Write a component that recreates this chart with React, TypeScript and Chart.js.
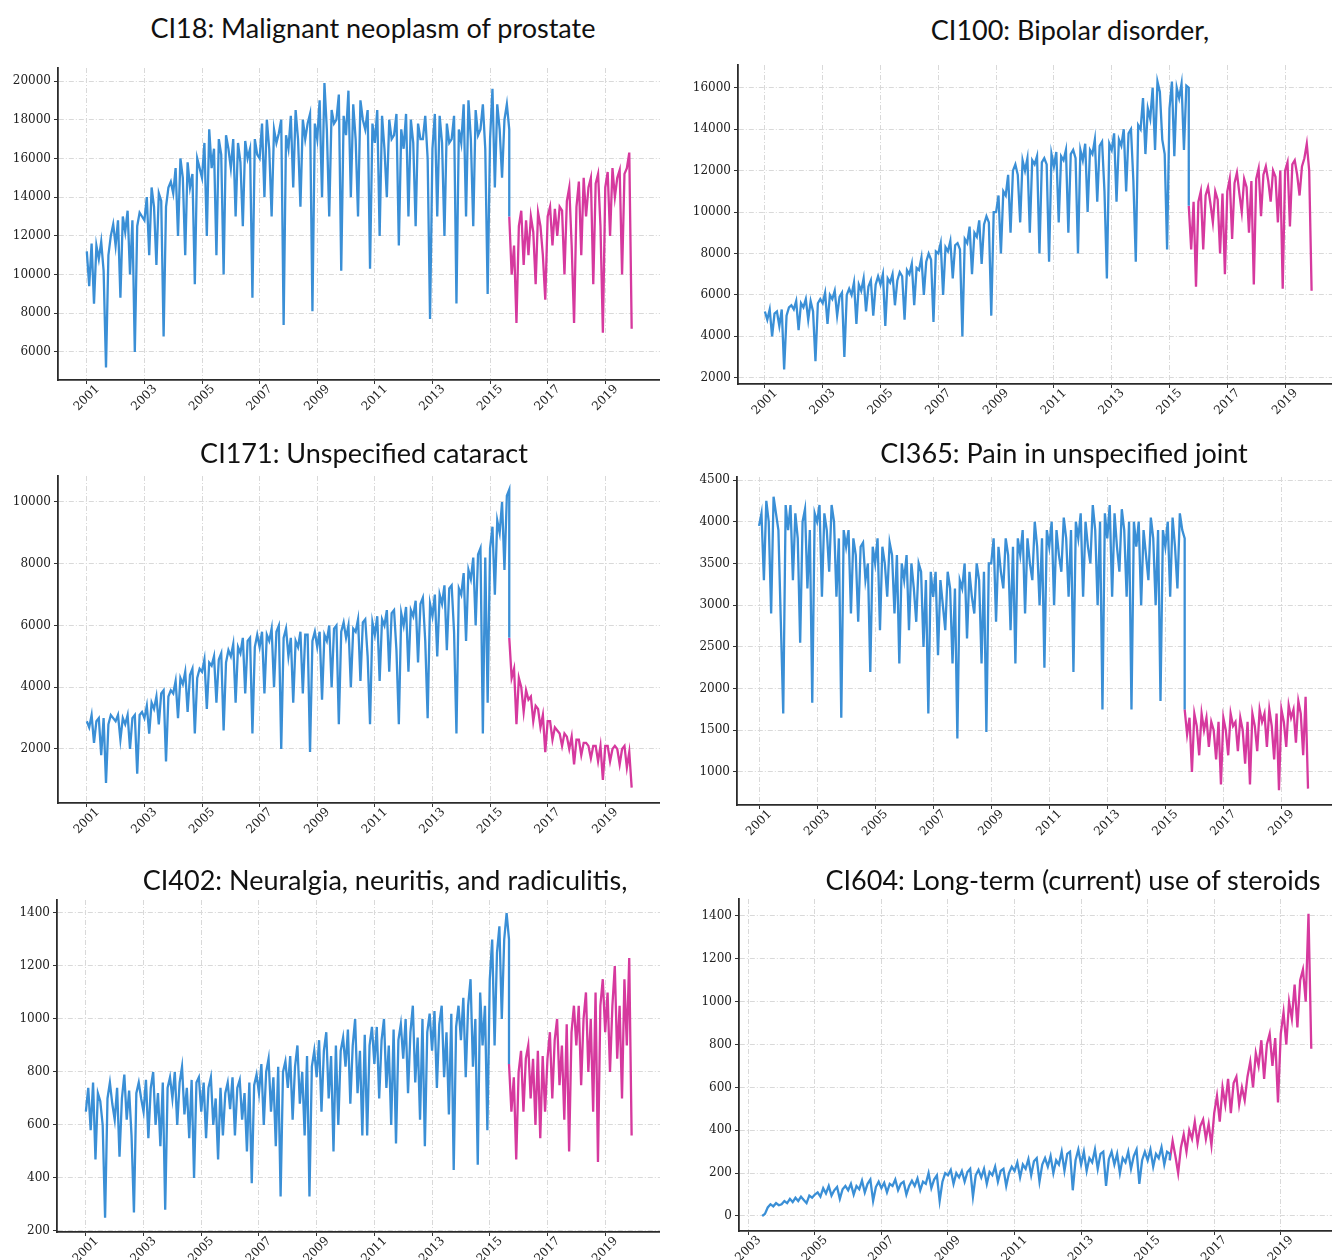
import React, { useEffect, useRef } from 'react';
import { Chart, registerables } from 'chart.js';

Chart.register(...registerables);

// ---------- shared axis data ----------
const yearTicks = [2001, 2003, 2005, 2007, 2009, 2011, 2013, 2015, 2017, 2019];
const yearTicks604 = [2003, 2005, 2007, 2009, 2011, 2013, 2015, 2017, 2019];
const blueStart = 2001;
const blueStart604 = 2003 + 5 / 12;
const pinkStart = 2015 + 8 / 12;

// ---------- CI18 ----------
const ci18Ticks = [6000, 8000, 10000, 12000, 14000, 16000, 18000, 20000];
const ci18Blue = [
  11200, 9400, 11600, 8500, 11500, 10800, 11700, 10200, 5200, 11000, 12000, 12600,
  11500, 12800, 8800, 13000, 12200, 13300, 10000, 12800, 6000, 12500, 13200, 13000,
  12800, 14000, 11000, 14500, 13500, 10500, 14200, 13800, 6800, 13500, 14500, 14800,
  14200, 15500, 12000, 16000, 15000, 11000, 15800, 14500, 15200, 9500, 16000, 15500,
  15000, 16800, 12000, 17500, 15500, 16500, 11000, 17000, 16200, 10000, 17200, 16500,
  15500, 17000, 13000, 16800, 15800, 12500, 16900, 16000, 16500, 8800, 17000, 16200,
  16000, 17800, 14000, 18000, 16500, 13000, 17500, 16800, 17300, 18000, 7400, 17200,
  16500, 18200, 14500, 18500, 17000, 13500, 18000, 17000, 17800, 18300, 8100, 17800,
  17000, 19000, 14000, 19900, 17500, 13000, 18500, 17800, 18000, 19300, 10200, 18200,
  17200, 19500, 14000, 18800, 17000, 13000, 19000, 18000, 17500, 18500, 10300, 17800,
  16800, 18500, 12000, 18200, 16500, 14000, 18000, 17000, 17200, 18300, 11500, 17500,
  16500, 18300, 13000, 18000, 16800, 12500, 17800, 17000, 17000, 18200, 16000, 7700,
  16500, 18300, 13000, 18200, 16800, 12000, 17800, 16800, 17000, 18200, 8500, 17500,
  16800, 18800, 13000, 19000, 17000, 12500, 18500, 17200, 17500, 18800, 16500, 9000,
  17000, 19600, 14500, 18800, 17500, 15000, 18000, 18800, 17500,
];
const ci18Pink = [
  13000, 10000, 11500, 7500,
  12500, 13300, 10500, 12800, 11000, 13000, 12200, 9500, 13200, 12500, 11000, 8700,
  13000, 13500, 11500, 13400, 12000, 13500, 13300, 10000, 13800, 14500, 11500, 7500,
  13500, 14800, 11000, 15000, 13000, 14500, 15000, 9500, 14700, 15200, 12500, 7000,
  14500, 15300, 12000, 15500, 14000, 15000, 15400, 10000, 15200, 15500, 16300, 7200,
];

// ---------- CI100 ----------
const ci100Ticks = [2000, 4000, 6000, 8000, 10000, 12000, 14000, 16000];
const ci100Blue = [
  5200, 4800, 5300, 4000, 5100, 5200, 4500, 5300, 2400, 5000, 5400, 5500,
  5300, 5700, 4300, 5600, 5400, 5800, 4800, 5700, 5200, 2800, 5600, 5800,
  5600, 6100, 4600, 6000, 5800, 6200, 5000, 5900, 6100, 3000, 6000, 6300,
  6000, 6600, 4600, 6500, 6200, 6800, 5200, 6400, 6700, 5000, 6500, 6900,
  6500, 7000, 4500, 6800, 6600, 7000, 5500, 6700, 7100, 6900, 4800, 7200,
  7000, 7500, 5500, 7300, 7200, 7800, 6000, 7600, 8000, 7700, 4700, 8100,
  8000, 8500, 6000, 8300, 8100, 8600, 6800, 8400, 8500, 8200, 4000, 8700,
  8500, 9300, 7000, 9000, 8800, 9600, 7500, 9400, 9800, 9500, 5000, 10000,
  10000, 10800, 8000, 11000, 10800, 11800, 9000, 12000, 12300, 11800, 9500, 12500,
  12000, 12600, 9000, 12500, 12300, 12700, 8000, 12400, 12600, 12300, 7600, 12800,
  12200, 12900, 9500, 12700, 12500, 13000, 9000, 12800, 13000, 12600, 8000, 13000,
  12500, 13300, 10000, 13000, 12800, 13500, 10500, 13200, 13400, 11000, 6800, 13300,
  13000, 13800, 10500, 13500, 13200, 14000, 11000, 13800, 14000, 11500, 7600, 14200,
  14000, 15500, 12800, 15000, 14500, 16000, 13000, 16300, 15800, 13500, 12800, 8200,
  15000, 16300, 12700, 16000, 15500, 16200, 13000, 16100, 16000,
];
const ci100Pink = [
  10300, 8200, 10500, 6400,
  10500, 11000, 8200, 10800, 11200, 10400, 9500, 11000, 10600, 8000, 10900, 7000,
  11000, 11600, 8700, 11400, 11900, 10900, 10000, 11600, 11200, 9000, 11500, 6500,
  11600, 12100, 9800, 11800, 12200, 11500, 10500, 12000, 11700, 9500, 12000, 6300,
  12000, 12400, 9300, 12300, 12500, 11800, 10800, 12200, 12600, 13300, 12000, 6200,
];

// ---------- CI171 ----------
const ci171Ticks = [2000, 4000, 6000, 8000, 10000];
const ci171Blue = [
  2900, 2700, 3100, 2200, 2900, 3000, 1800, 3000, 900, 2800, 3100, 3000,
  2900, 3100, 2300, 3000, 2800, 3100, 2000, 3000, 3100, 1200, 3100, 3200,
  3000, 3400, 2500, 3500, 3300, 3700, 2800, 3800, 3900, 1600, 3700, 3900,
  3800, 4200, 3000, 4300, 4100, 4500, 3200, 4400, 4600, 2500, 4300, 4600,
  4500, 4900, 3300, 4800, 4700, 5000, 3500, 4900, 5100, 2600, 4800, 5200,
  5000, 5400, 3500, 5300, 5100, 5600, 3800, 5500, 5600, 2500, 5300, 5700,
  5300, 5800, 3800, 5700, 5500, 5900, 4000, 5800, 6000, 2000, 5600, 5900,
  5000, 5600, 3500, 5500, 5300, 5800, 3800, 5700, 5700, 1900, 5500, 5800,
  5300, 5800, 3600, 5700, 5500, 6000, 4000, 5900, 6000, 2800, 5800, 6100,
  5600, 6000, 4000, 5900, 5800, 6200, 4200, 6100, 6200, 5000, 2800, 6100,
  5700, 6300, 4200, 6200, 6000, 6500, 4500, 6400, 6500, 5200, 2800, 6400,
  6000, 6600, 4500, 6500, 6300, 6800, 4800, 6700, 6900, 5500, 3000, 6700,
  6300, 7000, 5000, 7000, 6700, 7300, 5200, 7200, 7300, 5800, 2500, 7200,
  7000, 7700, 5500, 7800, 7500, 8200, 6000, 8300, 8500, 2500, 8200, 3500,
  8500, 9200, 7000, 9400, 9000, 10000, 7800, 10200, 10400,
];
const ci171Pink = [
  5600, 4300, 4600, 2800,
  4300, 4000, 3200, 3900, 3600, 3700, 2900, 3400, 3300, 2700, 3100, 1900,
  2900, 2900, 2300, 2700, 2600, 2500, 2100, 2500, 2400, 2000, 2400, 1500,
  2300, 2300, 1800, 2200, 2200, 2100, 1700, 2100, 2100, 1600, 2100, 1000,
  2100, 2100, 1600, 2000, 2100, 2000, 1500, 2000, 2100, 1400, 1900, 750,
];

// ---------- CI365 ----------
const ci365Ticks = [1000, 1500, 2000, 2500, 3000, 3500, 4000, 4500];
const ci365Blue = [
  3950, 4100, 3300, 4250, 4000, 2900, 4300, 4100, 3900, 2800, 1700, 4200,
  3900, 4200, 3300, 4100, 3800, 2550, 4000, 4150, 3200, 3900, 1830, 4100,
  4000, 4200, 3100, 4100, 3900, 3400, 4200, 4000, 3100, 3800, 1650, 3900,
  3700, 3900, 2900, 3800, 3600, 2800, 3700, 3750, 3300, 3500, 2200, 3700,
  3500, 3800, 2700, 3700, 3500, 3100, 3750, 3600, 2900, 3600, 2300, 3500,
  3300, 3600, 2700, 3500, 3200, 2800, 3500, 3400, 2500, 3300, 1700, 3400,
  3100, 3400, 2400, 3300, 3000, 2700, 3400, 3200, 2300, 3200, 1400, 3300,
  3200, 3500, 2600, 3400, 3100, 2900, 3500, 3300, 2300, 3400, 1480, 3500,
  3500, 3800, 2800, 3700, 3400, 3200, 3800, 3600, 2700, 3700, 2300, 3800,
  3600, 3900, 2900, 3800, 3500, 3300, 4000, 3700, 3000, 3800, 2250, 3900,
  3700, 4000, 3000, 3900, 3600, 3400, 4050, 3800, 3100, 3900, 2200, 4000,
  3800, 4100, 3100, 4000, 3700, 3500, 4200, 3900, 3000, 4000, 1750, 4100,
  3800, 4200, 3100, 4100, 3700, 3400, 4150, 3900, 3100, 4000, 1750, 4000,
  3700, 4000, 3000, 3900, 3600, 3300, 4050, 3800, 3000, 3900, 1850, 3900,
  3700, 4000, 3100, 4050, 3700, 3200, 4100, 3900, 3800,
];
const ci365Pink = [
  1750, 1450, 1650, 1000,
  1700, 1550, 1200, 1700, 1500, 1650, 1300, 1600, 1500, 1150, 1600, 850,
  1650, 1500, 1200, 1700, 1550, 1600, 1250, 1650, 1500, 1100, 1600, 850,
  1700, 1550, 1250, 1750, 1600, 1700, 1300, 1750, 1550, 1150, 1700, 780,
  1750, 1600, 1300, 1800, 1650, 1750, 1350, 1850, 1700, 1200, 1900, 800,
];

// ---------- CI402 ----------
const ci402Ticks = [200, 400, 600, 800, 1000, 1200, 1400];
const ci402Blue = [
  650, 740, 580, 760, 470, 720, 690, 600, 250, 700, 760, 680,
  620, 740, 480, 700, 790, 620, 730, 560, 270, 720, 760, 700,
  650, 770, 550, 740, 800, 600, 720, 520, 760, 280, 740, 780,
  700, 800, 600, 760, 820, 640, 740, 550, 770, 400, 760, 780,
  650, 760, 550, 740, 780, 600, 700, 470, 740, 560, 720, 760,
  660, 780, 560, 740, 770, 620, 720, 500, 760, 380, 750, 790,
  720, 830, 600, 800, 850, 650, 780, 520, 820, 330, 800, 840,
  740, 860, 620, 820, 900, 680, 800, 560, 860, 330, 820, 880,
  780, 920, 650, 880, 950, 700, 860, 500, 900, 600, 880, 930,
  820, 960, 680, 900, 1000, 720, 880, 560, 940, 560, 900, 970,
  830, 970, 700, 920, 1000, 740, 900, 600, 960, 530, 920, 980,
  850, 1000, 720, 950, 1050, 760, 930, 620, 1000, 520, 950, 1020,
  880, 1030, 740, 980, 1050, 780, 950, 640, 1020, 430, 970, 1050,
  920, 1080, 780, 1050, 1150, 820, 1000, 450, 1100, 900, 1050, 580,
  1150, 1300, 900, 1250, 1350, 1000, 1300, 1400, 1300,
];
const ci402Pink = [
  830, 650, 780, 470,
  800, 880, 650, 850, 900, 700, 850, 600, 880, 550, 860, 650,
  850, 950, 700, 920, 1000, 750, 900, 620, 980, 500, 950, 1050,
  900, 1050, 750, 1000, 1100, 800, 1000, 650, 1100, 460, 1050, 1150,
  950, 1100, 800, 1050, 1200, 850, 1050, 700, 1150, 900, 1230, 560,
];

// ---------- CI604 ----------
const ci604Ticks = [0, 200, 400, 600, 800, 1000, 1200, 1400];
const ci604Blue = [
  0, 10, 40, 55, 45, 60, 50,
  55, 70, 60, 80, 65, 85, 70, 90, 75, 60, 95, 85,
  100, 110, 90, 130, 105, 140, 95, 120, 135, 80, 125, 140,
  120, 150, 100, 140, 125, 165, 110, 150, 170, 70, 135, 160,
  130, 155, 110, 150, 140, 170, 120, 150, 160, 100, 140, 165,
  140, 175, 120, 160, 150, 200, 130, 170, 190, 70, 160, 200,
  190, 215, 150, 200, 180, 210, 160, 205, 220, 90, 190, 215,
  180, 220, 150, 205, 190, 230, 160, 210, 220, 140, 200, 230,
  210, 250, 180, 240, 220, 265, 190, 255, 270, 160, 240, 270,
  230, 280, 200, 260, 240, 300, 210, 290, 300, 120, 260, 310,
  240, 300, 210, 270, 250, 310, 220, 290, 300, 140, 265, 300,
  240, 290, 200, 270, 250, 300, 220, 280, 310, 150, 260, 300,
  260, 310, 230, 290, 270, 320, 240, 300, 290,
];
const ci604Pink = [
  260, 350, 280, 200,
  320, 380, 300, 400, 360, 440, 340, 420, 450, 360, 430, 330,
  480, 560, 440, 600, 520, 640, 480, 620, 650, 520, 600, 540,
  650, 720, 600, 760, 700, 820, 640, 800, 850, 700, 830, 530,
  850, 950, 800, 1000, 920, 1080, 880, 1100, 1150, 1000, 1410, 780,
];

// ---------- styles ----------
const BLUE = '#3a8fd6';
const PINK = '#d6399e';
const TICK_FONT = '"DejaVu Serif", serif';
const PAD_T = 10;
const X_H = 46;

const panels = [
  { title: 'CI18: Malignant neoplasm of prostate', titleX: 373, titleY: 28,
    L: 58, T: 68, R: 660, B: 380, yw: 58, xmin: 2000.0, xmax: 2020.9, ymin: 4553, ymax: 20672,
    yTicks: ci18Ticks, xTicks: yearTicks, blue: ci18Blue, blueStart, pink: ci18Pink },
  { title: 'CI100: Bipolar disorder,', titleX: 1070, titleY: 30,
    L: 738, T: 65, R: 1338, B: 384, yw: 70, xmin: 2000.07, xmax: 2020.83, ymin: 1700, ymax: 17100,
    yTicks: ci100Ticks, xTicks: yearTicks, blue: ci100Blue, blueStart, pink: ci100Pink },
  { title: 'CI171: Unspecified cataract', titleX: 364, titleY: 453,
    L: 58, T: 476, R: 660, B: 803, yw: 58, xmin: 2000.0, xmax: 2020.9, ymin: 251, ymax: 10842,
    yTicks: ci171Ticks, xTicks: yearTicks, blue: ci171Blue, blueStart, pink: ci171Pink },
  { title: 'CI365: Pain in unspecified joint', titleX: 1064, titleY: 453,
    L: 737, T: 477, R: 1338, B: 805, yw: 70, xmin: 2000.24, xmax: 2020.95, ymin: 604, ymax: 4536,
    yTicks: ci365Ticks, xTicks: yearTicks, blue: ci365Blue, blueStart, pink: ci365Pink },
  { title: 'CI402: Neuralgia, neuritis, and radiculitis,', titleX: 385, titleY: 880,
    L: 57, T: 900, R: 660, B: 1232, yw: 57, xmin: 2000.0, xmax: 2020.9, ymin: 196, ymax: 1449,
    yTicks: ci402Ticks, xTicks: yearTicks, blue: ci402Blue, blueStart, pink: ci402Pink },
  { title: 'CI604: Long-term (current) use of steroids', titleX: 1073, titleY: 880,
    L: 739, T: 899, R: 1338, B: 1231, yw: 70, xmin: 2002.72, xmax: 2020.72, ymin: -70, ymax: 1479,
    yTicks: ci604Ticks, xTicks: yearTicks604, blue: ci604Blue, blueStart: blueStart604, pink: ci604Pink },
];

const xLabelPlugin = {
  id: 'rotatedXLabels',
  afterDraw(chart: any) {
    const { ctx, chartArea, scales } = chart;
    const xs = scales.x;
    ctx.save();
    ctx.font = `12px ${TICK_FONT}`;
    ctx.fillStyle = '#222222';
    ctx.textAlign = 'center';
    ctx.textBaseline = 'middle';
    for (const t of xs.ticks) {
      const px = xs.getPixelForValue(t.value);
      ctx.save();
      ctx.translate(px, chartArea.bottom + 18);
      ctx.rotate(-Math.PI / 4);
      ctx.fillText(String(t.value), 0, 0);
      ctx.restore();
    }
    ctx.restore();
  },
};

function Panel({ cfg }: { cfg: any }) {
  const ref = useRef<HTMLCanvasElement>(null);
  const left = cfg.L - cfg.yw;
  const top = cfg.T - PAD_T;
  const width = cfg.R - left;
  const height = cfg.B - cfg.T + PAD_T + X_H;

  useEffect(() => {
    if (!ref.current) return;
    const blueData = cfg.blue.map((v: number, i: number) => ({ x: cfg.blueStart + i / 12, y: v }));
    blueData.push({ x: pinkStart, y: cfg.pink[0] });
    const pinkData = cfg.pink.map((v: number, j: number) => ({ x: pinkStart + j / 12, y: v }));
    const gridCommon = {
      color: '#d9d9d9',
      lineWidth: 1,
      drawTicks: true,
      tickLength: 4,
      tickColor: '#333333',
      tickWidth: 1,
    };
    const borderCommon = { display: true, color: '#2b2b2b', width: 1.8, dash: [5, 2, 1, 2] };
    const chart = new Chart(ref.current, {
      type: 'line',
      data: {
        datasets: [
          { data: blueData, borderColor: BLUE, borderWidth: 2.3, pointRadius: 0, tension: 0, fill: false },
          { data: pinkData, borderColor: PINK, borderWidth: 2.3, pointRadius: 0, tension: 0, fill: false },
        ],
      },
      options: {
        animation: false,
        responsive: false,
        maintainAspectRatio: false,
        events: [],
        layout: { padding: { top: PAD_T, left: 0, right: 0, bottom: 0 } },
        plugins: { legend: { display: false }, tooltip: { enabled: false }, title: { display: false } },
        scales: {
          x: {
            type: 'linear',
            min: cfg.xmin,
            max: cfg.xmax,
            afterBuildTicks: (s: any) => { s.ticks = cfg.xTicks.map((v: number) => ({ value: v })); },
            afterFit: (s: any) => { s.height = X_H; s.paddingLeft = 0; s.paddingRight = 0; },
            ticks: { display: false },
            grid: gridCommon,
            border: borderCommon,
          },
          y: {
            type: 'linear',
            min: cfg.ymin,
            max: cfg.ymax,
            afterBuildTicks: (s: any) => { s.ticks = cfg.yTicks.map((v: number) => ({ value: v })); },
            afterFit: (s: any) => { s.width = cfg.yw; s.paddingTop = 0; s.paddingBottom = 0; },
            ticks: {
              autoSkip: false,
              padding: 3,
              color: '#222222',
              font: { family: TICK_FONT, size: 12 },
              callback: (v: any) => String(v),
            },
            grid: gridCommon,
            border: borderCommon,
          },
        },
      } as any,
      plugins: [xLabelPlugin],
    });
    return () => chart.destroy();
  }, []);

  return (
    <canvas
      ref={ref}
      width={width}
      height={height}
      style={{ position: 'absolute', left, top, width, height }}
    />
  );
}

export default function App() {
  return (
    <div
      style={{
        position: 'absolute',
        left: 0,
        top: 0,
        width: 1332,
        height: 1260,
        overflow: 'hidden',
        background: '#ffffff',
      }}
    >
      {panels.map((p, i) => (
        <Panel key={i} cfg={p} />
      ))}
      {panels.map((p, i) => (
        <div
          key={'t' + i}
          style={{
            position: 'absolute',
            left: p.titleX,
            top: p.titleY - 16,
            transform: 'translateX(-50%)',
            whiteSpace: 'nowrap',
            fontFamily: 'Lato, "Open Sans", sans-serif',
            fontSize: 27,
            lineHeight: '32px',
            color: '#111',
          }}
        >
          {p.title}
        </div>
      ))}
    </div>
  );
}
